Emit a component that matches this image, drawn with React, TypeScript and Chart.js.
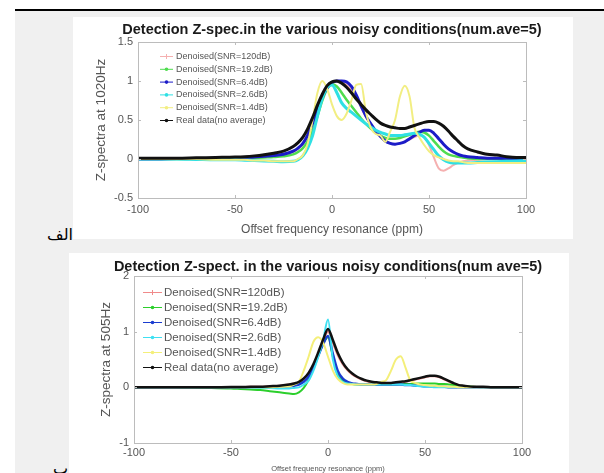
import React, { useEffect, useRef } from 'react';
import { Chart, registerables } from 'chart.js';

Chart.register(...registerables);
Chart.defaults.font.family = "'Liberation Sans', Arial, sans-serif";

// ---------- data ----------
const PPM = [-100, -90, -80, -70, -60, -50, -45, -40, -35, -30, -25, -20, -17.5, -15, -12.5, -10, -7.5, -5, -2.5, 0, 2.5, 5, 7.5, 10, 12.5, 15, 17.5, 20, 22.5, 25, 27.5, 30, 32.5, 35, 37.5, 40, 42.5, 45, 47.5, 50, 52.5, 55, 57.5, 60, 62.5, 65, 67.5, 70, 75, 80, 85, 90, 95, 100];

const SERIES_LABELS = [
  'Denoised(SNR=120dB)',
  'Denoised(SNR=19.2dB)',
  'Denoised(SNR=6.4dB)',
  'Denoised(SNR=2.6dB)',
  'Denoised(SNR=1.4dB)',
  'Real data(no average)',
];

const X_TICKS = [-100, -50, 0, 50, 100];
const Y_TICKS_1020 = [-0.5, 0, 0.5, 1, 1.5];
const Y_TICKS_505 = [-1, 0, 1, 2];

// 1020 Hz
const RED_1020 = [0, 0, 0, 0.005, 0.01, 0.01, 0.015, 0.02, 0.03, 0.04, 0.055, 0.09, 0.13, 0.19, 0.3, 0.45, 0.62, 0.78, 0.9, 0.97, 0.99, 0.98, 0.95, 0.88, 0.78, 0.66, 0.54, 0.44, 0.35, 0.28, 0.23, 0.2, 0.19, 0.2, 0.22, 0.25, 0.28, 0.3, 0.28, 0.18, 0.02, -0.12, -0.15, -0.12, -0.08, -0.05, -0.03, -0.02, -0.01, 0, 0, 0, 0, 0];
const GREEN_1020 = [0, 0, 0, 0, 0.005, 0.01, 0.01, 0.015, 0.02, 0.025, 0.035, 0.06, 0.09, 0.14, 0.23, 0.36, 0.55, 0.75, 0.9, 0.96, 0.93, 0.85, 0.76, 0.68, 0.6, 0.52, 0.45, 0.39, 0.34, 0.3, 0.27, 0.26, 0.26, 0.27, 0.29, 0.31, 0.33, 0.35, 0.34, 0.3, 0.23, 0.16, 0.1, 0.06, 0.04, 0.03, 0.02, 0.01, 0, 0, 0, 0, 0, 0];
const BLUE_1020 = [0, 0, 0.005, 0.005, 0.01, 0.015, 0.02, 0.025, 0.035, 0.045, 0.06, 0.1, 0.14, 0.2, 0.31, 0.46, 0.63, 0.79, 0.91, 0.98, 1.0, 1.0, 0.99, 0.93, 0.82, 0.68, 0.55, 0.45, 0.36, 0.29, 0.23, 0.2, 0.19, 0.2, 0.22, 0.26, 0.3, 0.34, 0.37, 0.37, 0.33, 0.26, 0.19, 0.13, 0.09, 0.06, 0.04, 0.03, 0.02, 0.01, 0.01, 0.01, 0, 0];
const CYAN_1020 = [0, 0, 0, -0.005, -0.01, -0.01, -0.015, -0.02, -0.025, -0.03, -0.035, -0.03, -0.01, 0.04, 0.14, 0.3, 0.55, 0.78, 0.92, 0.95, 0.85, 0.72, 0.65, 0.6, 0.55, 0.5, 0.45, 0.41, 0.37, 0.34, 0.32, 0.3, 0.3, 0.3, 0.31, 0.32, 0.33, 0.32, 0.28, 0.2, 0.12, 0.04, -0.01, -0.04, -0.05, -0.05, -0.05, -0.05, -0.045, -0.04, -0.035, -0.03, -0.025, -0.02];
const YELLOW_1020 = [0, 0, 0, 0, -0.01, -0.01, -0.01, -0.02, -0.02, -0.03, -0.03, -0.03, 0, 0.05, 0.2, 0.5, 0.85, 1.0, 0.9, 0.7, 0.55, 0.5, 0.58, 0.75, 0.95, 0.96, 0.6, 0.4, 0.32, 0.3, 0.22, 0.35, 0.5, 0.8, 0.94, 0.8, 0.4, 0.28, 0.18, 0.1, 0.05, 0.02, 0, -0.02, -0.03, -0.03, -0.04, -0.05, -0.05, -0.05, -0.05, -0.05, -0.05, -0.05];
const REAL_1020 = [0.01, 0.01, 0.01, 0.015, 0.02, 0.025, 0.03, 0.04, 0.055, 0.075, 0.1, 0.16, 0.21, 0.28, 0.39, 0.53, 0.69, 0.83, 0.94, 0.99, 1.0, 0.97, 0.92, 0.85, 0.77, 0.7, 0.63, 0.57, 0.51, 0.46, 0.43, 0.41, 0.4, 0.39, 0.39, 0.41, 0.43, 0.45, 0.47, 0.48, 0.48, 0.46, 0.42, 0.36, 0.29, 0.23, 0.17, 0.13, 0.09, 0.06, 0.05, 0.03, 0.02, 0.02];

// 505 Hz
const RED_505 = [0, 0, 0, 0, 0, 0.005, 0.005, 0.01, 0.01, 0.02, 0.03, 0.05, 0.07, 0.09, 0.15, 0.25, 0.4, 0.6, 0.83, 1.0, 0.8, 0.58, 0.42, 0.31, 0.23, 0.18, 0.14, 0.11, 0.09, 0.08, 0.07, 0.07, 0.07, 0.08, 0.09, 0.1, 0.12, 0.14, 0.16, 0.18, 0.2, 0.2, 0.18, 0.14, 0.1, 0.06, 0.04, 0.02, 0.01, 0, 0, 0, 0, 0];
const GREEN_505 = [0, 0, 0, -0.005, -0.01, -0.02, -0.03, -0.04, -0.05, -0.07, -0.09, -0.11, -0.12, -0.09, -0.01, 0.14, 0.36, 0.58, 0.78, 0.9, 0.55, 0.26, 0.13, 0.08, 0.06, 0.05, 0.05, 0.05, 0.05, 0.05, 0.05, 0.05, 0.05, 0.05, 0.06, 0.06, 0.06, 0.07, 0.07, 0.07, 0.07, 0.07, 0.06, 0.06, 0.05, 0.04, 0.03, 0.02, 0.01, 0, 0, 0, 0, 0];
const BLUE_505 = [0, 0, 0, 0, 0, 0, 0, 0, 0, 0, 0.01, 0.02, 0.03, 0.05, 0.1, 0.2, 0.37, 0.57, 0.78, 0.92, 0.6, 0.3, 0.16, 0.1, 0.07, 0.06, 0.05, 0.05, 0.05, 0.05, 0.05, 0.05, 0.05, 0.05, 0.05, 0.04, 0.04, 0.03, 0.03, 0.02, 0.02, 0.01, 0.01, 0.01, 0, 0, 0, 0, 0, 0, 0, 0, 0, 0];
const CYAN_505 = [0, 0, 0, 0, 0, 0, 0, -0.005, -0.01, -0.01, -0.02, -0.02, -0.01, 0, 0.05, 0.12, 0.3, 0.55, 0.85, 1.22, 0.5, 0.2, 0.1, 0.07, 0.06, 0.05, 0.05, 0.05, 0.05, 0.05, 0.05, 0.05, 0.05, 0.05, 0.05, 0.04, 0.04, 0.03, 0.02, 0.01, 0.01, 0, 0, 0, 0, 0, 0, 0, 0, 0, 0, 0, 0, 0];
const YELLOW_505 = [0, 0, 0, 0, 0, 0, 0, 0, 0, 0, 0.01, 0.02, 0.05, 0.1, 0.3, 0.55, 0.82, 0.9, 0.8, 0.55, 0.3, 0.15, 0.08, 0.05, 0.05, 0.05, 0.05, 0.05, 0.05, 0.06, 0.1, 0.13, 0.3, 0.5, 0.56, 0.35, 0.12, 0.08, 0.05, 0.04, 0.03, 0.03, 0.02, 0.02, 0.01, 0.01, 0, 0, 0, 0, 0, 0, 0, 0];
const REAL_505 = [0, 0, 0, 0, 0, 0.005, 0.005, 0.01, 0.01, 0.02, 0.03, 0.05, 0.07, 0.1, 0.16, 0.26, 0.42, 0.63, 0.86, 1.05, 0.85, 0.62, 0.45, 0.33, 0.25, 0.19, 0.15, 0.12, 0.1, 0.09, 0.08, 0.08, 0.08, 0.09, 0.1, 0.11, 0.13, 0.15, 0.17, 0.19, 0.21, 0.21, 0.19, 0.15, 0.11, 0.07, 0.04, 0.03, 0.01, 0.01, 0, 0, 0, 0];

// ---------- styles ----------
const COLORS_1020 = ['#f5b0b0', '#4fdc4f', '#1c1cc8', '#2fe0e4', '#f2ee82', '#111111'];
const COLORS_505 = ['#f08a8a', '#2ccf2c', '#1a3cd0', '#3ee0f2', '#f4ef7a', '#111111'];
const MARKERS = ['cross', 'dot', 'dot', 'dot', 'dot', 'dot'];

function drawMarker(ctx: CanvasRenderingContext2D, kind: string, x: number, y: number, color: string) {
  ctx.save();
  ctx.strokeStyle = color;
  ctx.fillStyle = color;
  ctx.lineWidth = 1;
  if (kind === 'cross') {
    ctx.beginPath();
    ctx.moveTo(x - 2.5, y);
    ctx.lineTo(x + 2.5, y);
    ctx.moveTo(x, y - 2.5);
    ctx.lineTo(x, y + 2.5);
    ctx.stroke();
  } else {
    ctx.beginPath();
    ctx.arc(x, y, 1.8, 0, Math.PI * 2);
    ctx.fill();
  }
  ctx.restore();
}

const matLegend = {
  id: 'matLegend',
  afterDraw(chart: any, _args: any, opts: any) {
    const { ctx, chartArea } = chart;
    ctx.save();
    ctx.font = `${opts.fontSize}px 'Liberation Sans', Arial, sans-serif`;
    ctx.textBaseline = 'middle';
    ctx.textAlign = 'left';
    chart.data.datasets.forEach((ds: any, i: number) => {
      const y = chartArea.top + opts.top + i * opts.step;
      const x0 = chartArea.left + opts.left;
      const x1 = x0 + opts.lineLen;
      ctx.strokeStyle = ds.borderColor;
      ctx.lineWidth = 1;
      ctx.beginPath();
      ctx.moveTo(x0, y + 0.5);
      ctx.lineTo(x1, y + 0.5);
      ctx.stroke();
      drawMarker(ctx, ds.marker, (x0 + x1) / 2, y + 0.5, ds.borderColor);
      ctx.fillStyle = opts.color;
      ctx.fillText(ds.label, x1 + opts.gap, y + 0.5);
    });
    ctx.restore();
  },
};

const matFrame = {
  id: 'matFrame',
  afterDatasetsDraw(chart: any, _args: any, opts: any) {
    const { ctx, chartArea, scales } = chart;
    const { left, right, top, bottom } = chartArea;
    ctx.save();
    ctx.strokeStyle = opts.color;
    ctx.lineWidth = 1;
    ctx.strokeRect(Math.round(left) + 0.5, Math.round(top) + 0.5, Math.round(right - left), Math.round(bottom - top));
    const tl = opts.tick;
    ctx.beginPath();
    scales.x.ticks.forEach((t: any) => {
      const x = Math.round(scales.x.getPixelForValue(t.value)) + 0.5;
      ctx.moveTo(x, bottom);
      ctx.lineTo(x, bottom - tl);
      ctx.moveTo(x, top);
      ctx.lineTo(x, top + tl);
    });
    scales.y.ticks.forEach((t: any) => {
      const y = Math.round(scales.y.getPixelForValue(t.value)) + 0.5;
      ctx.moveTo(left, y);
      ctx.lineTo(left + tl, y);
      ctx.moveTo(right, y);
      ctx.lineTo(right - tl, y);
    });
    ctx.stroke();
    ctx.restore();
  },
};

type Spec = {
  title: string;
  yTitle: string;
  series: number[][];
  colors: string[];
  widths: number[];
  yMin: number;
  yMax: number;
  yTicks: number[];
  titlePad: { top: number; bottom: number };
  yTitlePad: number;
  xAxisHeight: number;
  xTickPad: number;
  xTitleSize: number;
  xTitlePad: number;
  tickSize: number;
  legend: any;
};

// canvas is 518 wide: 65 px left axis, 388 px plot, 65 px (invisible) right axis,
// so the full-width title is centred over the plot area.
const CANVAS_W = 518;

function buildConfig(s: Spec): any {
  return {
    type: 'line',
    data: {
      datasets: s.series.map((vals, i) => ({
        label: SERIES_LABELS[i],
        data: PPM.map((x, j) => ({ x, y: vals[j] })),
        borderColor: s.colors[i],
        backgroundColor: s.colors[i],
        borderWidth: s.widths[i],
        pointRadius: 0,
        cubicInterpolationMode: 'monotone',
        order: s.series.length - 1 - i,
        marker: MARKERS[i],
        yAxisID: 'y',
      })),
    },
    options: {
      animation: false,
      responsive: false,
      maintainAspectRatio: false,
      events: [],
      layout: { padding: 0 },
      plugins: {
        legend: { display: false },
        tooltip: { enabled: false },
        title: {
          display: true,
          text: s.title,
          color: '#1a1a1a',
          font: { size: 14.5, weight: 'bold', lineHeight: 1.2 },
          padding: s.titlePad,
        },
        matLegend: s.legend,
        matFrame: { color: '#bcbcbc', tick: 3 },
      },
      scales: {
        x: {
          type: 'linear',
          min: -100,
          max: 100,
          afterBuildTicks: (axis: any) => {
            axis.ticks = X_TICKS.map((v) => ({ value: v }));
          },
          afterFit: (axis: any) => {
            axis.height = s.xAxisHeight;
          },
          grid: { display: false, drawTicks: false },
          border: { display: false },
          ticks: {
            color: '#555',
            font: { size: s.tickSize },
            padding: s.xTickPad,
            maxRotation: 0,
            autoSkip: false,
            callback: (v: any) => `${v}`,
          },
          title: {
            display: true,
            text: 'Offset frequency resonance (ppm)',
            color: '#555',
            font: { size: s.xTitleSize, lineHeight: 1.2 },
            padding: { top: 0, bottom: s.xTitlePad },
          },
        },
        y: {
          type: 'linear',
          position: 'left',
          min: s.yMin,
          max: s.yMax,
          afterBuildTicks: (axis: any) => {
            axis.ticks = s.yTicks.map((v) => ({ value: v }));
          },
          afterFit: (axis: any) => {
            axis.width = 65;
          },
          grid: { display: false, drawTicks: false },
          border: { display: false },
          ticks: {
            color: '#555',
            font: { size: s.tickSize },
            padding: 5,
            autoSkip: false,
            callback: (v: any) => `${v}`,
          },
          title: {
            display: true,
            text: s.yTitle,
            color: '#555',
            font: { size: 13.5, lineHeight: 1.2 },
            padding: { top: s.yTitlePad, bottom: 0 },
          },
        },
        yRight: {
          type: 'linear',
          position: 'right',
          min: s.yMin,
          max: s.yMax,
          afterFit: (axis: any) => {
            axis.width = 65;
          },
          grid: { display: false, drawTicks: false },
          border: { display: false },
          ticks: { display: false },
          title: { display: false },
        },
      },
    },
    plugins: [matFrame, matLegend],
  };
}

const SPEC_1020: Spec = {
  title: 'Detection Z-spec.in the various noisy conditions(num.ave=5)',
  yTitle: 'Z-spectra at 1020Hz',
  series: [RED_1020, GREEN_1020, BLUE_1020, CYAN_1020, YELLOW_1020, REAL_1020],
  colors: COLORS_1020,
  widths: [2, 2.5, 3, 3, 2, 3],
  yMin: -0.5,
  yMax: 1.5,
  yTicks: Y_TICKS_1020,
  titlePad: { top: 4.3, bottom: 3.3 },
  yTitlePad: 19.9,
  xAxisHeight: 41,
  xTickPad: 5,
  xTitleSize: 12,
  xTitlePad: 1.8,
  tickSize: 11,
  legend: { left: 22, lineLen: 13, gap: 3, top: 14, step: 12.8, fontSize: 9, color: '#555' },
};

const SPEC_505: Spec = {
  title: 'Detection Z-spect. in the various noisy conditions(num ave=5)',
  yTitle: 'Z-spectra at 505Hz',
  series: [RED_505, GREEN_505, BLUE_505, CYAN_505, YELLOW_505, REAL_505],
  colors: COLORS_505,
  widths: [2, 2, 2.5, 2, 2, 2.5],
  yMin: -1,
  yMax: 2,
  yTicks: Y_TICKS_505,
  titlePad: { top: 5.3, bottom: 0.3 },
  yTitlePad: 28.9,
  xAxisHeight: 40,
  xTickPad: 3.5,
  xTitleSize: 7.5,
  xTitlePad: 9.5,
  tickSize: 11,
  legend: { left: 9, lineLen: 19, gap: 2, top: 16, step: 15, fontSize: 11.5, color: '#555' },
};

function ChartBox({ spec, height }: { spec: Spec; height: number }) {
  const ref = useRef<HTMLCanvasElement>(null);
  useEffect(() => {
    const chart = new Chart(ref.current as HTMLCanvasElement, buildConfig(spec));
    return () => chart.destroy();
  }, [spec]);
  return (
    <canvas
      ref={ref}
      width={CANVAS_W}
      height={height}
      style={{ display: 'block', position: 'absolute', left: 0, top: 0, width: CANVAS_W, height }}
    />
  );
}

export default function App() {
  return (
    <div style={{ position: 'fixed', left: 0, top: 0, width: 604, height: 473, overflow: 'hidden', background: '#ffffff' }}>
      <div style={{ position: 'absolute', left: 15, top: 9, width: 589, height: 2, background: '#000' }} />
      <div style={{ position: 'absolute', left: 15, top: 11, width: 589, height: 462, background: '#f0f0f0' }} />
      <div style={{ position: 'absolute', left: 73, top: 17, width: 500, height: 222, background: '#fff' }}>
        <ChartBox spec={SPEC_1020} height={222} />
      </div>
      <div style={{ position: 'absolute', left: 69, top: 253, width: 500, height: 230, background: '#fff' }}>
        <ChartBox spec={SPEC_505} height={230} />
      </div>
      <div
        dir="rtl"
        style={{ position: 'absolute', right: 604 - 73, top: 225, fontFamily: "'DejaVu Sans', sans-serif", fontSize: 16, lineHeight: '20px', color: '#000', whiteSpace: 'nowrap' }}
      >
        الف
      </div>
      <div
        dir="rtl"
        style={{ position: 'absolute', right: 604 - 68, top: 459, fontFamily: "'DejaVu Sans', sans-serif", fontSize: 16, lineHeight: '20px', color: '#000', whiteSpace: 'nowrap' }}
      >
        ب
      </div>
    </div>
  );
}
